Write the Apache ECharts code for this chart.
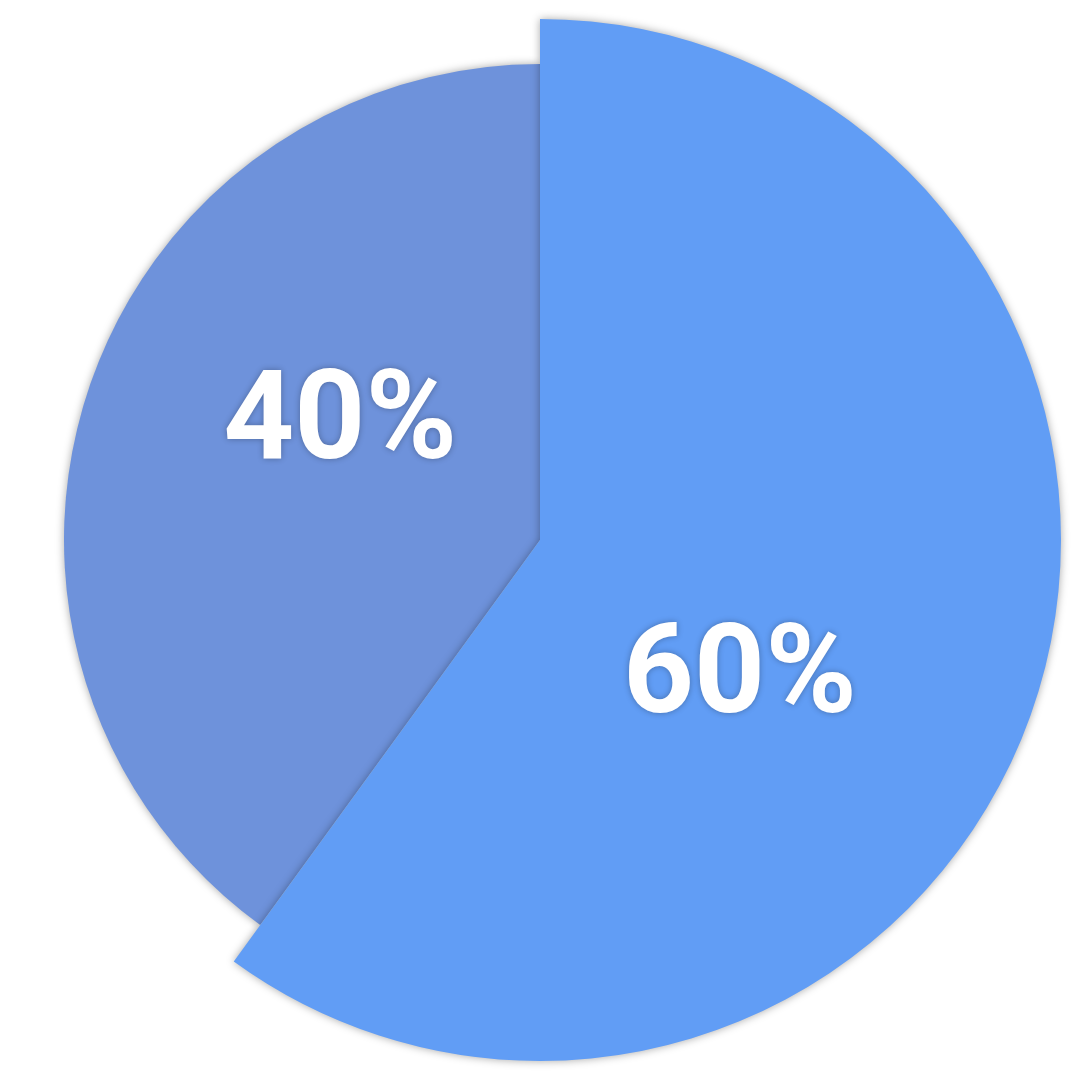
<!DOCTYPE html>
<html>
<head>
<meta charset="utf-8">
<script src="https://cdn.jsdelivr.net/npm/echarts@6/dist/echarts.min.js"></script>
<style>html,body{margin:0;padding:0;background:#fff}#c{width:1080px;height:1080px}</style>
</head>
<body>
<div id="c"></div>
<script>
const categories = ['A', 'B'];
const values = [60, 40];
const colors = ['#619DF5', '#6E92DB'];

const chart = echarts.init(document.getElementById('c'));
const shadow = { shadowBlur: 8, shadowColor: 'rgba(0,0,0,0.35)', shadowOffsetX: 0, shadowOffsetY: 0 };
function sliceData(showIdx) {
  return categories.map((c, i) => ({
    name: c,
    value: values[i],
    itemStyle: i === showIdx
      ? Object.assign({ color: colors[i] }, shadow)
      : { color: 'transparent', shadowBlur: 0 }
  }));
}
chart.setOption({
  animation: false,
  series: [
    {
      type: 'pie', z: 1, center: [540, 540], radius: 476, startAngle: 90, clockwise: true,
      silent: true, label: { show: false }, labelLine: { show: false },
      data: sliceData(1)
    },
    {
      type: 'pie', z: 2, center: [540, 540], radius: 521, startAngle: 90, clockwise: true,
      silent: true, label: { show: false }, labelLine: { show: false },
      data: sliceData(0)
    },
    {
      type: 'pie', z: 3, center: [540, 540], radius: 468, startAngle: 75.5, clockwise: true,
      silent: true, labelLine: { show: false },
      itemStyle: { color: 'transparent' },
      label: {
        show: true, position: 'inside', offset: [0, 14],
        formatter: p => p.value + '%',
        fontFamily: 'Roboto', fontWeight: 'bold', fontSize: 124, color: '#fff',
        textShadowBlur: 6, textShadowColor: 'rgba(0,0,0,0.3)'
      },
      data: categories.map((c, i) => ({ name: c, value: values[i] }))
    }
  ]
});
</script>
</body>
</html>
